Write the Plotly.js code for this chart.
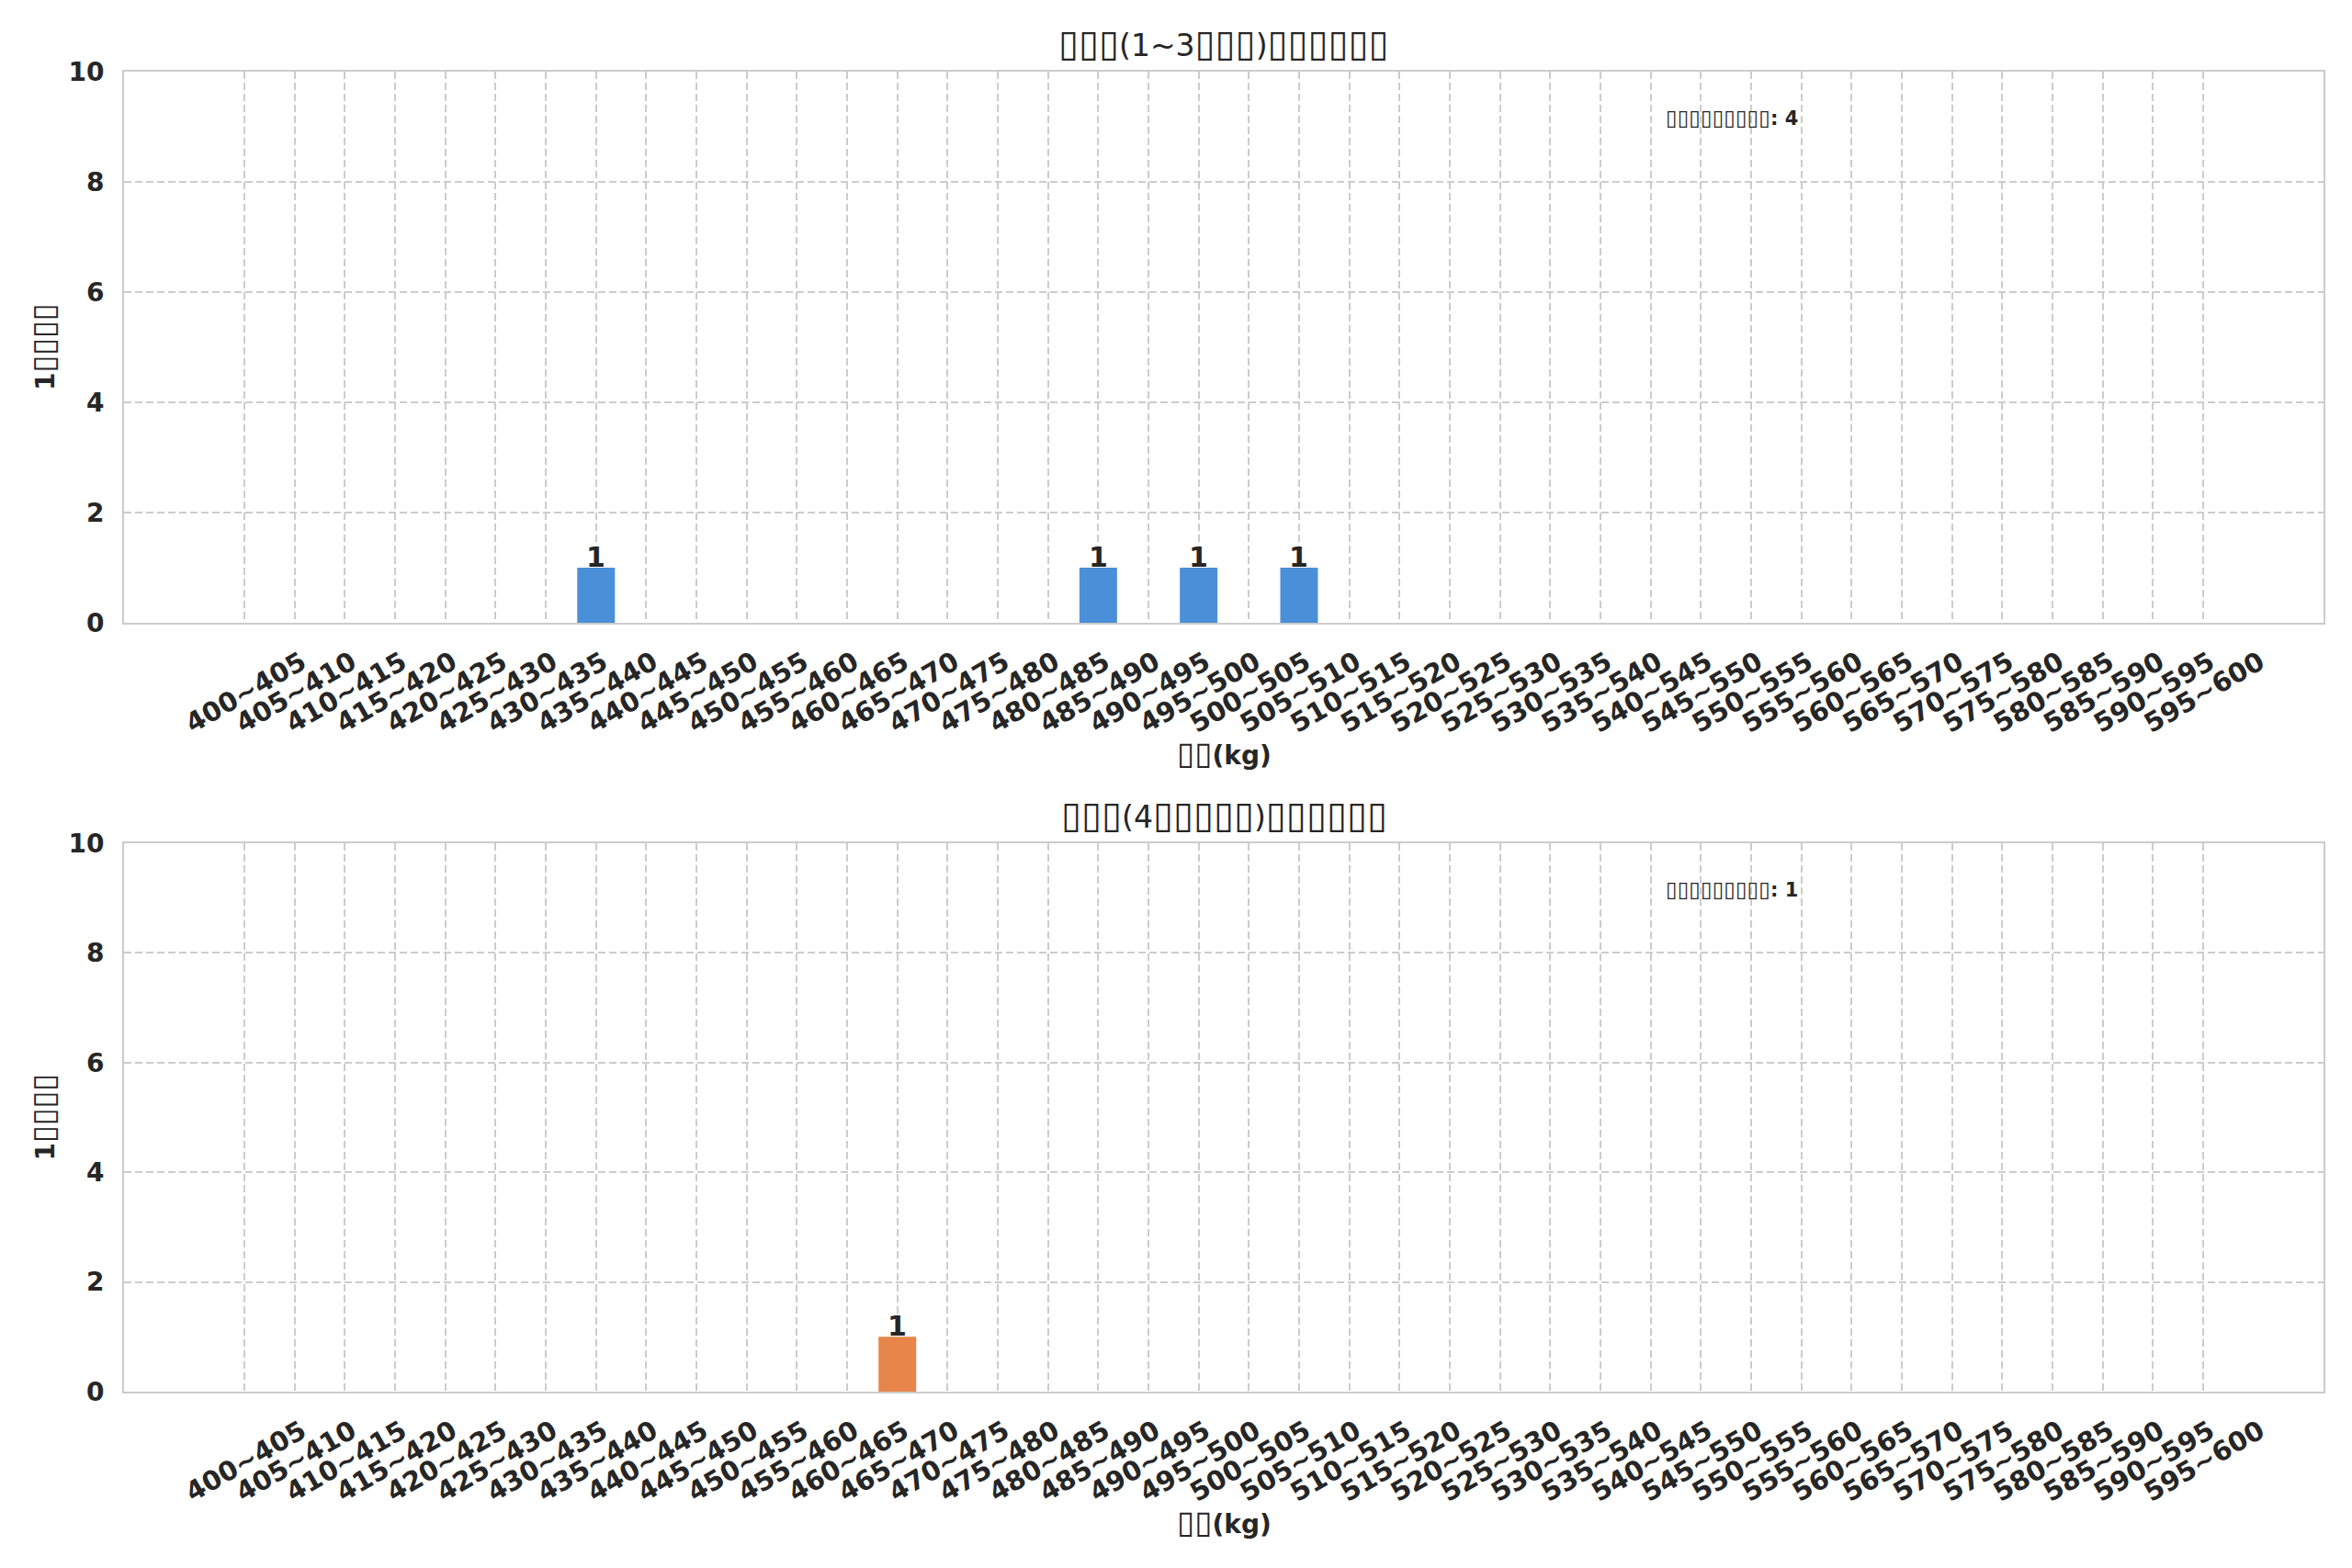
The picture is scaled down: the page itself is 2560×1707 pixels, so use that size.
<!DOCTYPE html>
<html>
<head>
<meta charset="utf-8">
<script src="https://cdn.plot.ly/plotly-3.0.1.min.js"></script>
<style>
  html, body { margin: 0; padding: 0; background: #fff; }
  #plot { width: 2560px; height: 1707px; }
</style>
</head>
<body>
<div id="plot"></div>
<script>
// weight bins (kg), shared by both panels
const weightBins = [
  '400~405', '405~410', '410~415', '415~420', '420~425', '425~430', '430~435', '435~440',
  '440~445', '445~450', '450~455', '455~460', '460~465', '465~470', '470~475', '475~480',
  '480~485', '485~490', '490~495', '495~500', '500~505', '505~510', '510~515', '515~520',
  '520~525', '525~530', '530~535', '535~540', '540~545', '545~550', '550~555', '555~560',
  '560~565', '565~570', '570~575', '575~580', '580~585', '585~590', '590~595', '595~600'
];

// counts per bin, top panel (1~3) and bottom panel (4...)
const countsTop = [
  0, 0, 0, 0, 0, 0, 0, 1,
  0, 0, 0, 0, 0, 0, 0, 0,
  0, 1, 0, 1, 0, 1, 0, 0,
  0, 0, 0, 0, 0, 0, 0, 0,
  0, 0, 0, 0, 0, 0, 0, 0
];
const countsBottom = [
  0, 0, 0, 0, 0, 0, 0, 0,
  0, 0, 0, 0, 0, 1, 0, 0,
  0, 0, 0, 0, 0, 0, 0, 0,
  0, 0, 0, 0, 0, 0, 0, 0,
  0, 0, 0, 0, 0, 0, 0, 0
];

// the source text was drawn with missing glyphs; those are kept as boxes
const blue = '#4a90d9';
const orange = '#e8854a';
const ink = '#262626';
const lineGrey = '#cccccc';

// n missing-glyph boxes, a bit larger than the text around them
const box = (n, size) => '<span style="font-size:' + size + 'px">' + '▯'.repeat(n) + '</span>';

const titleTop = box(3, 40) + '(1~3' + box(3, 40) + ')' + box(6, 40);
const titleBottom = box(3, 40) + '(4' + box(5, 40) + ')' + box(6, 40);
const xLabel = box(2, 35) + '(kg)';
const yLabel = '1' + box(4, 34);
const totalLabel = box(9, 23);

const sum = arr => arr.reduce((a, b) => a + b, 0);

function barTrace(counts, color, xa, ya) {
  return {
    type: 'bar',
    x: weightBins,
    y: counts,
    xaxis: xa,
    yaxis: ya,
    width: 0.75,
    marker: { color: color, line: { width: 0 } },
    hoverinfo: 'skip'
  };
}

const traces = [
  barTrace(countsTop, blue, 'x', 'y'),
  barTrace(countsBottom, orange, 'x2', 'y2')
];

function xAxis(anchor) {
  return {
    anchor: anchor,
    type: 'category',
    range: [-2.4, 41.4],
    showline: true, mirror: true, linecolor: lineGrey, linewidth: 2,
    showgrid: true, gridcolor: lineGrey, gridwidth: 2, griddash: '8px,4px',
    zeroline: false,
    ticks: '',
    tickangle: -30,
    ticklabelshift: 62,
    ticklabelstandoff: 13,
    tickfont: { family: 'DejaVu Sans', size: 29, weight: 'bold', color: ink },
    fixedrange: true
  };
}

function yAxis(anchor, domain) {
  return {
    anchor: anchor,
    domain: domain,
    range: [0, 10],
    tickvals: [0, 2, 4, 6, 8, 10],
    showline: true, mirror: true, linecolor: lineGrey, linewidth: 2,
    showgrid: true, gridcolor: lineGrey, gridwidth: 2, griddash: '8px,4px',
    zeroline: false,
    ticks: '',
    ticklabelstandoff: 14,
    tickfont: { family: 'DejaVu Sans', size: 28, weight: 'bold', color: ink },
    fixedrange: true
  };
}

// value labels on top of the non-empty bars
function barLabels(counts, xa, ya) {
  return weightBins
    .map((bin, i) => ({ bin: bin, v: counts[i] }))
    .filter(d => d.v > 0)
    .map(d => ({
      text: String(d.v), xref: xa, yref: ya, x: d.bin, y: d.v,
      xanchor: 'center', yanchor: 'bottom', yshift: -8, showarrow: false,
      font: { size: 30, weight: 'bold', color: ink }
    }));
}

function panelNotes(xa, ya, title, counts) {
  const xd = xa + ' domain', yd = ya + ' domain';
  return [
    { text: title, xref: xd, yref: yd, x: 0.5, y: 1, xanchor: 'center', yanchor: 'middle',
      yshift: 31, showarrow: false, font: { size: 33, color: ink } },
    { text: xLabel, xref: xd, yref: yd, x: 0.5, y: 0, xanchor: 'center', yanchor: 'middle',
      yshift: -142, showarrow: false, font: { size: 28, weight: 'bold', color: ink } },
    { text: yLabel, xref: xd, yref: yd, x: 0, y: 0.5, xanchor: 'center', yanchor: 'middle',
      xshift: -88, textangle: -90, showarrow: false, font: { size: 28, weight: 'bold', color: ink } },
    { text: totalLabel + ': ' + sum(counts), xref: xd, yref: yd, x: 0.7, y: 1,
      xanchor: 'left', yanchor: 'middle', yshift: -50, showarrow: false,
      font: { size: 21, weight: 'bold', color: ink } },
    ...barLabels(counts, xa, ya)
  ];
}

const layout = {
  width: 2560,
  height: 1707,
  paper_bgcolor: '#ffffff',
  plot_bgcolor: '#ffffff',
  font: { family: 'DejaVu Sans', color: ink, size: 27 },
  margin: { l: 135, r: 31, t: 78, b: 192 },
  showlegend: false,
  xaxis: xAxis('y'),
  yaxis: yAxis('x', [0.5825, 1]),
  xaxis2: xAxis('y2'),
  yaxis2: yAxis('x2', [0, 0.4155]),
  annotations: [
    ...panelNotes('x', 'y', titleTop, countsTop),
    ...panelNotes('x2', 'y2', titleBottom, countsBottom)
  ]
};

Plotly.newPlot('plot', traces, layout, { staticPlot: true });
</script>
</body>
</html>
